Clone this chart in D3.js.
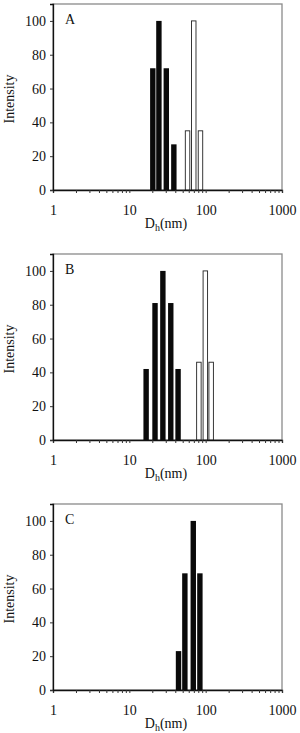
<!DOCTYPE html>
<html>
<head>
<meta charset="utf-8">
<script src="https://cdn.jsdelivr.net/npm/d3@7/dist/d3.min.js"></script>
<style>
  body { margin: 0; background: #fff; }
  text { font-family: 'Liberation Serif', 'Times New Roman', serif; fill: #111; }
</style>
</head>
<body>
<div id="chart"></div>
<script>
// values (hydrodynamic diameter in nm, intensity)
const panelLabels = ['A', 'B', 'C'];
const yTicks = [0, 20, 40, 60, 80, 100];
const xTickLabels = [1, 10, 100, 1000];

const solidSizeA = [20.3, 24.4, 30.5, 38.3];
const solidIntA = [72, 100, 72, 27];
const openSizeA = [57.9, 69.8, 85.5];
const openIntA = [35, 100, 35];

const solidSizeB = [16.6, 21.7, 27.5, 34.9, 43.5];
const solidIntB = [42, 81, 100, 81, 42];
const openSizeB = [81.5, 99, 118];
const openIntB = [46, 100, 46];

const solidSizeC = [44.1, 53.4, 68.8, 84];
const solidIntC = [23, 69, 100, 69];

class SizePanel {
  constructor(svg, top, label, solid, open) {
    this.svg = svg;
    this.top = top;
    this.label = label;
    this.solid = solid;
    this.open = open;
    this.init();
    this.render();
  }

  init() {
    const vis = this;
    vis.left = 53;
    vis.right = 282;
    vis.height = 186;

    vis.g = vis.svg.append('g')
      .attr('transform', `translate(0,${vis.top})`);

    vis.x = d3.scaleLog().domain([1, 1000]).range([vis.left, vis.right]);
    vis.y = d3.scaleLinear().domain([0, 110]).range([vis.height, 0]);

    // grey frame round the plot area
    vis.g.append('rect')
      .attr('x', vis.left)
      .attr('y', 0)
      .attr('width', vis.right - vis.left)
      .attr('height', vis.height)
      .attr('fill', 'none')
      .attr('stroke', '#8a8a8a')
      .attr('stroke-width', 1.3);
  }

  render() {
    const vis = this;

    // solid bars
    vis.g.selectAll('.solid')
      .data(vis.solid)
      .enter()
      .append('rect')
      .attr('class', 'solid')
      .attr('x', (d) => vis.x(d.size / 1.085))
      .attr('width', (d) => vis.x(d.size * 1.085) - vis.x(d.size / 1.085))
      .attr('y', (d) => vis.y(d.value))
      .attr('height', (d) => vis.y(0) - vis.y(d.value))
      .attr('fill', '#0a0a0a');

    // open bars
    vis.g.selectAll('.open')
      .data(vis.open)
      .enter()
      .append('rect')
      .attr('class', 'open')
      .attr('x', (d) => vis.x(d.size / 1.07))
      .attr('width', (d) => vis.x(d.size * 1.07) - vis.x(d.size / 1.07))
      .attr('y', (d) => vis.y(d.value))
      .attr('height', (d) => vis.y(0) - vis.y(d.value))
      .attr('fill', '#fff')
      .attr('stroke', '#222')
      .attr('stroke-width', 0.9);

    vis.renderAxes();

    vis.g.append('text')
      .attr('x', 65)
      .attr('y', vis.y(100) + 3)
      .style('font-size', '14px')
      .text(vis.label);
  }

  renderAxes() {
    const vis = this;

    vis.xAxis = d3.axisBottom(vis.x)
      .tickValues(vis.x.ticks())
      .tickSize(3)
      .tickFormat((d) => (xTickLabels.includes(d) ? d : ''));

    vis.yAxis = d3.axisLeft(vis.y)
      .tickValues(yTicks)
      .tickSize(3)
      .tickPadding(4);

    const gx = vis.g.append('g')
      .attr('class', 'x-axis')
      .attr('transform', `translate(0,${vis.height})`)
      .call(vis.xAxis);
    gx.select('.domain').attr('stroke', '#111').attr('stroke-width', 1.3);
    gx.selectAll('line').attr('stroke', '#333');
    gx.selectAll('text')
      .attr('y', 15)
      .style('font-size', '14px')
      .style('font-family', "'Liberation Serif', serif");

    const gy = vis.g.append('g')
      .attr('class', 'y-axis')
      .attr('transform', `translate(${vis.left},0)`)
      .call(vis.yAxis);
    gy.select('.domain').attr('stroke', '#111').attr('stroke-width', 1.3);
    gy.selectAll('line').attr('stroke', '#333');
    gy.selectAll('text')
      .style('font-size', '14px')
      .style('font-family', "'Liberation Serif', serif");

    // axis titles
    vis.g.append('text')
      .attr('transform', `translate(14,${vis.height / 2 + 2}) rotate(-90)`)
      .attr('text-anchor', 'middle')
      .style('font-size', '14px')
      .text('Intensity');

    const xt = vis.g.append('text')
      .attr('x', 166)
      .attr('y', vis.height + 38)
      .attr('text-anchor', 'middle')
      .style('font-size', '14px');
    xt.append('tspan').text('D');
    xt.append('tspan').attr('dy', 3).style('font-size', '10px').text('h');
    xt.append('tspan').attr('dy', -3).text('(nm)');
  }
}

const toRows = (sizes, values) => sizes.map((s, i) => ({ size: s, value: values[i] }));

const svg = d3.select('#chart')
  .append('svg')
  .attr('width', 300)
  .attr('height', 733);

new SizePanel(svg, 4, panelLabels[0], toRows(solidSizeA, solidIntA), toRows(openSizeA, openIntA));
new SizePanel(svg, 254, panelLabels[1], toRows(solidSizeB, solidIntB), toRows(openSizeB, openIntB));
new SizePanel(svg, 504, panelLabels[2], toRows(solidSizeC, solidIntC), []);
</script>
</body>
</html>
